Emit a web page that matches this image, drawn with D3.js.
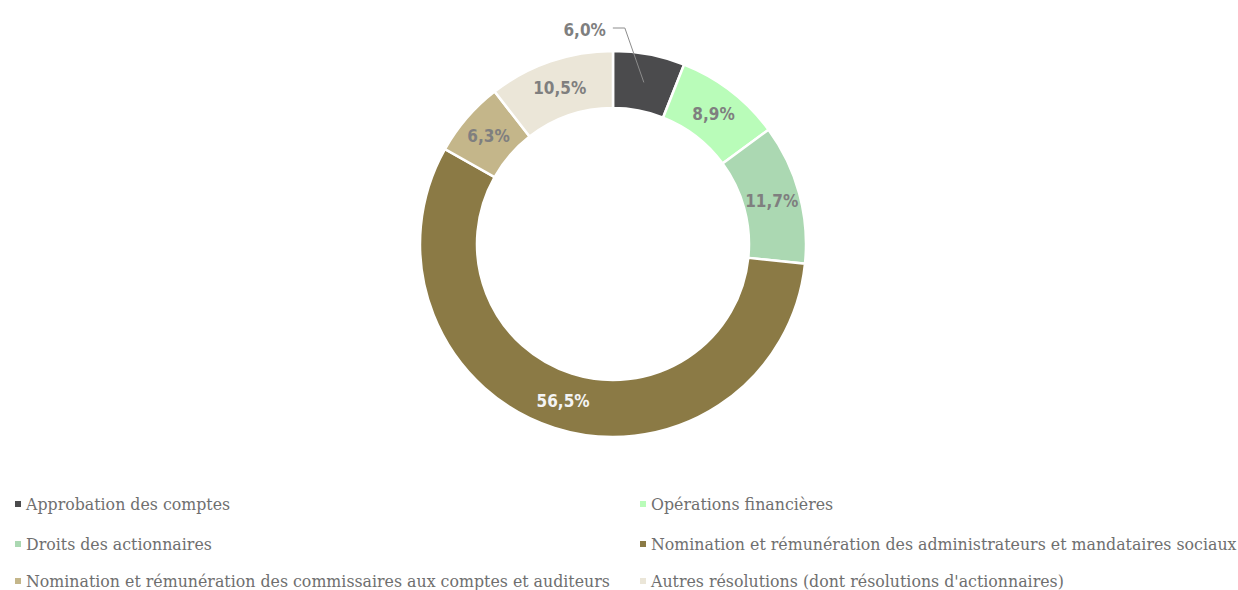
<!DOCTYPE html>
<html>
<head>
<meta charset="utf-8">
<script src="https://cdn.jsdelivr.net/npm/d3@7"></script>
<style>
  body { margin: 0; background: #fff; }
  .lbl { font-family: "Liberation Sans Narrow", "DejaVu Sans Condensed", sans-serif; font-weight: bold; font-size: 17px; }
  .leg { font-family: "DejaVu Serif", serif; font-size: 15.8px; fill: #6f6f6f; }
</style>
</head>
<body>
<div id="chart"></div>
<script>
const categories = [
  "Approbation des comptes",
  "Opérations financières",
  "Droits des actionnaires",
  "Nomination et rémunération des administrateurs et mandataires sociaux",
  "Nomination et rémunération des commissaires aux comptes et auditeurs",
  "Autres résolutions (dont résolutions d'actionnaires)"
]
const values = [6.0, 8.9, 11.7, 56.5, 6.3, 10.5]
const colors = ["#4b4b4d", "#b9fcb9", "#abd8b2", "#8b7a45", "#c4b68a", "#ebe6d8"]

const width = 1238
const height = 590
const cx = 613
const cy = 244
const outerR = 193
const innerR = 136

const svg = d3.select("#chart").append("svg")
  .attr("width", width)
  .attr("height", height)

const pie = d3.pie().sort(null).value((d) => d)
const arcs = pie(values)
const arc = d3.arc().innerRadius(innerR).outerRadius(outerR)
const mid = d3.arc().innerRadius((innerR + outerR) / 2).outerRadius((innerR + outerR) / 2)

const g = svg.append("g").attr("transform", `translate(${cx},${cy})`)

g.selectAll("path.slice")
  .data(arcs)
  .join("path")
  .attr("class", "slice")
  .attr("d", arc)
  .attr("fill", (d, i) => colors[i])
  .attr("stroke", "#fff")
  .attr("stroke-width", 2.5)

const fmt = (v) => v.toFixed(1).replace(".", ",") + "%"

// first slice label sits outside with a leader line
arcs.forEach((d, i) => {
  const [x, y] = mid.centroid(d)
  if (i === 0) {
    const lx = x - 19, ly = -216
    g.append("polyline")
      .attr("points", `${x},${y} ${lx},${ly} ${lx - 12},${ly}`)
      .attr("fill", "none")
      .attr("stroke", "#8c8c8c")
      .attr("stroke-width", 1)
    g.append("text")
      .attr("class", "lbl")
      .attr("x", lx - 19)
      .attr("y", ly + 2)
      .attr("dy", "0.35em")
      .attr("text-anchor", "end")
      .attr("fill", "#7f7f7f")
      .text(fmt(values[i]))
  } else {
    g.append("text")
      .attr("class", "lbl")
      .attr("x", x)
      .attr("y", y)
      .attr("dy", "0.35em")
      .attr("text-anchor", "middle")
      .attr("fill", i === 3 ? "#f4f4f4" : "#7f7f7f")
      .text(fmt(values[i]))
  }
})

// legend, two columns
const colX = [15, 640]
const rowY = [504, 544, 581]
const leg = svg.append("g")
categories.forEach((c, i) => {
  const x = colX[i % 2]
  const y = rowY[Math.floor(i / 2)]
  leg.append("rect")
    .attr("x", x)
    .attr("y", y - 3)
    .attr("width", 6)
    .attr("height", 6)
    .attr("fill", colors[i])
  leg.append("text")
    .attr("class", "leg")
    .attr("x", x + 11)
    .attr("y", y)
    .attr("dy", "0.35em")
    .text(c)
})
</script>
</body>
</html>
